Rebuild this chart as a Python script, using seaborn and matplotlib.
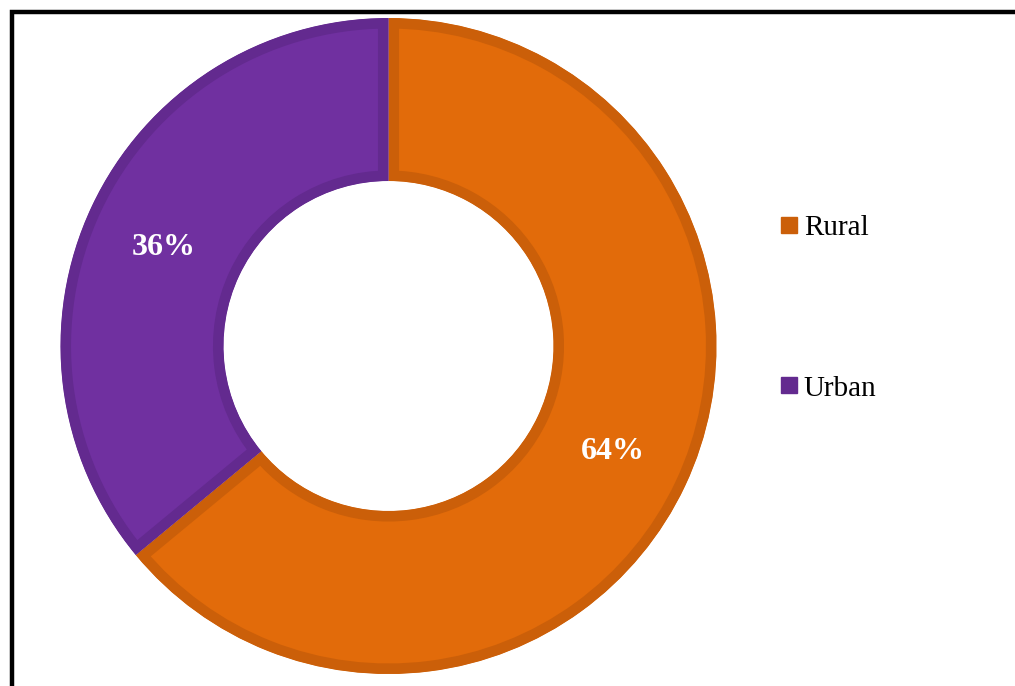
import matplotlib
matplotlib.use("Agg")
import matplotlib.pyplot as plt
import seaborn as sns
import numpy as np
from matplotlib.patches import Rectangle
from matplotlib.lines import Line2D

categories = ["Rural", "Urban"]
values = [64, 36]
labels = ["64%", "36%"]
fill_colors = ["#E26B0A", "#7030A0"]
edge_colors = ["#CB5F09", "#632A8F"]

sns.set_theme(style="white")
plt.rcParams['font.family'] = ['Liberation Serif', 'DejaVu Serif']

W, H = 1015, 686
fig = plt.figure(figsize=(W / 100, H / 100), dpi=100)
fig.patch.set_facecolor("white")

lim = 1.03
cx, cy, R = 388.5, H - 346, 328
half = R * lim
ax = fig.add_axes([(cx - half) / W, (cy - half) / H, 2 * half / W, 2 * half / H])

wedges, _ = ax.pie(values, colors=fill_colors, startangle=90, counterclock=False,
                   radius=1.0, wedgeprops=dict(width=0.497, linewidth=15.2))
for w, ec in zip(wedges, edge_colors):
    w.set_edgecolor(ec)
    w.set_joinstyle("miter")
    w.set_clip_on(True)
    w.set_clip_path(w.get_path(), w.get_transform())

start = 90.0
total = sum(values)
for v, lab in zip(values, labels):
    mid = np.deg2rad(start - v / total * 360 / 2 + 0.7)
    start -= v / total * 360
    r = 0.753
    ax.text(r * np.cos(mid), r * np.sin(mid), lab, ha="center", va="center_baseline",
            color="white", fontsize=23, fontweight="bold")
ax.set_xlim(-lim, lim)
ax.set_ylim(-lim, lim)
ax.set_aspect("equal")
ax.axis("off")

handles = [Line2D([], [], marker="s", linestyle="none", markersize=11.5,
                  markerfacecolor=c, markeredgecolor=c) for c in edge_colors]
fig.legend(handles, categories, loc="center left",
           bbox_to_anchor=(766 / W, (H - 308) / H), frameon=False,
           fontsize=21, handlelength=0.6, handletextpad=0.2,
           labelspacing=4.6, borderpad=0, labelcolor="black")

frame = Rectangle((12 / W, -0.1), 1.2, (H - 12) / H + 0.1, transform=fig.transFigure,
                  fill=False, edgecolor="black", linewidth=3.2, clip_on=False)
fig.patches.append(frame)

fig.savefig("out.png", dpi=100, facecolor="white")
